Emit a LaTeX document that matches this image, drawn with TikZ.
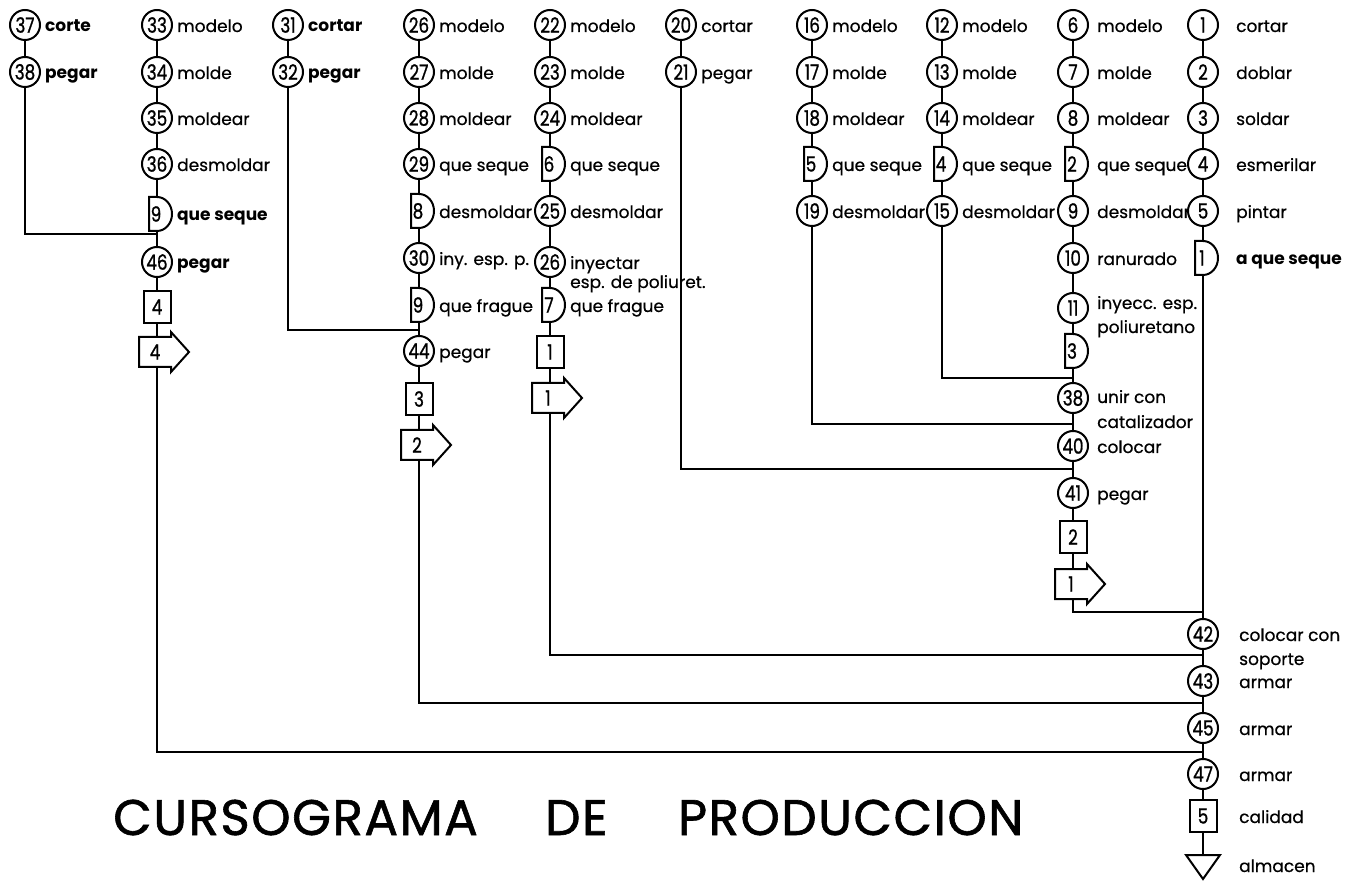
\documentclass[tikz,border=0pt]{standalone}
\usepackage{fontspec}
\setmainfont{Poppins}
\newfontfamily\numfont[FakeStretch=0.8,FakeBold=1]{Poppins}
\newfontfamily\labfont[FakeBold=0.6]{Poppins}
\newfontfamily\ttlfont[FakeBold=1.2,LetterSpace=3]{Poppins}
\tikzset{
 ln/.style={line width=1.8pt},
 sym/.style={line width=2pt, line join=miter},
 op/.style={circle, draw, line width=2pt, fill=white, minimum size=30pt, inner sep=0pt, font=\numfont\fontsize{21}{21}\selectfont},
 bx/.style={rectangle, draw, line width=2pt, fill=white, minimum width=27pt, minimum height=32pt, inner sep=0pt, font=\numfont\fontsize{21}{21}\selectfont},
 hold/.style={rectangle, minimum width=22pt, minimum height=34pt, inner sep=0pt},
 thold/.style={rectangle, minimum width=32pt, minimum height=30pt, inner sep=0pt},
 num/.style={inner sep=0pt, font=\numfont\fontsize{21}{21}\selectfont},
 lab/.style={anchor=base west, inner sep=0pt, font=\labfont\fontsize{17}{19}\selectfont},
 blab/.style={anchor=base west, inner sep=0pt, font=\bfseries\fontsize{17}{19}\selectfont},
 cur/.style={lab},
 ttl/.style={anchor=base west, inner sep=0pt, font=\ttlfont\fontsize{50}{50}\selectfont},
}
\def\lx{20}
\newcommand\op[5]{%
  \node[op] (#1) at (#2,-#3) {#4};
  \node[cur] at (#2+\lx,-#3-7) {#5};}
\newcommand\bxx[5]{%
  \node[bx] (#1) at (#2,-#3) {#4};
  \node[cur] at (#2+\lx,-#3-7) {#5};}
\newcommand\dly[5]{%
  \node[hold] (#1) at (#2,-#3) {};
  \draw[sym] (#2-8,-#3+17) -- (#2,-#3+17) arc[start angle=90,end angle=-90,x radius=15,y radius=17] -- (#2-8,-#3-17) -- cycle;
  \node[num] at (#2-1,-#3) {#4};
  \node[cur] at (#2+\lx,-#3-7) {#5};}
\newcommand\trp[4]{%
  \node[thold] (#1) at (#2,-#3) {};
  \draw[sym] (#2-18,-#3+15) -- (#2+14,-#3+15) -- (#2+14,-#3+20) -- (#2+32,-#3) -- (#2+14,-#3-20) -- (#2+14,-#3-15) -- (#2-18,-#3-15) -- cycle;
  \node[num] at (#2-2,-#3) {#4};}
\begin{document}
\begin{tikzpicture}[x=1pt,y=1pt]
\useasboundingbox (0,0) rectangle (1361,-882);
% ---------- merge coordinates
\coordinate (mB) at (1203,-752);
\coordinate (mD) at (1203,-703);
\coordinate (mE) at (1203,-655);
\coordinate (mI) at (1203,-612);
\coordinate (mF) at (1073,-469);
\coordinate (mG) at (1073,-424);
\coordinate (mH) at (1073,-378);
\coordinate (mA) at (157,-234);
\coordinate (mC) at (419,-330);
% ---------- column A
\tikzset{cur/.style={blab}}
\op{a37}{25}{25}{37}{corte}
\op{a38}{25}{72}{38}{pegar}
\draw[ln] (a37) -- (a38);
\draw[line width=2.3pt] (a38) |- (mA);
% ---------- column B
\tikzset{cur/.style={lab}}
\op{b33}{157}{25}{33}{modelo}
\op{b34}{157}{72}{34}{molde}
\op{b35}{157}{118}{35}{moldear}
\op{b36}{157}{164}{36}{desmoldar}
\tikzset{cur/.style={blab}}
\dly{b9}{157}{214}{9}{que seque}
\op{b46}{157}{262}{46}{pegar}
\bxx{b4}{157}{307}{4}{}
\trp{bp4}{157}{352}{4}
\draw[ln] (b33) -- (b34); \draw[ln] (b34) -- (b35); \draw[ln] (b35) -- (b36);
\draw[ln] (b36) -- (b9); \draw[ln] (b9) -- (b46); \draw[ln] (b46) -- (b4); \draw[ln] (b4) -- (bp4);
\draw[ln] (bp4) |- (mB);
% ---------- column C
\op{c31}{288}{25}{31}{cortar}
\op{c32}{288}{72}{32}{pegar}
\draw[ln] (c31) -- (c32);
\draw[line width=2.3pt] (c32) |- (mC);
% ---------- column D
\tikzset{cur/.style={lab}}
\op{d26}{419}{25}{26}{modelo}
\op{d27}{419}{72}{27}{molde}
\op{d28}{419}{118}{28}{moldear}
\op{d29}{419}{164}{29}{que seque}
\dly{d8}{419}{211}{8}{desmoldar}
\op{d30}{419}{258}{30}{iny. esp. p.}
\dly{d9}{419}{305}{9}{que frague}
\op{d44}{419}{351}{44}{pegar}
\bxx{d3}{419}{399}{3}{}
\trp{dp2}{419}{445}{2}
\draw[ln] (d26) -- (d27); \draw[ln] (d27) -- (d28); \draw[ln] (d28) -- (d29);
\draw[ln] (d29) -- (d8); \draw[ln] (d8) -- (d30); \draw[ln] (d30) -- (d9);
\draw[ln] (d9) -- (d44); \draw[ln] (d44) -- (d3); \draw[ln] (d3) -- (dp2);
\draw[ln] (dp2) |- (mD);
% ---------- column E
\op{e22}{550}{25}{22}{modelo}
\op{e23}{550}{72}{23}{molde}
\op{e24}{550}{118}{24}{moldear}
\dly{e6}{550}{164}{6}{que seque}
\op{e25}{550}{211}{25}{desmoldar}
\op{e26}{550}{262}{26}{inyectar}
\node[lab] at (550+\lx,-282-6) {esp. de poliuret.};
\dly{e7}{550}{305}{7}{que frague}
\bxx{e1}{550}{352}{1}{}
\trp{ep1}{550}{398}{1}
\draw[ln] (e22) -- (e23); \draw[ln] (e23) -- (e24); \draw[ln] (e24) -- (e6);
\draw[ln] (e6) -- (e25); \draw[ln] (e25) -- (e26); \draw[ln] (e26) -- (e7);
\draw[ln] (e7) -- (e1); \draw[ln] (e1) -- (ep1);
\draw[ln] (ep1) |- (mE);
% ---------- column F
\op{f20}{681}{25}{20}{cortar}
\op{f21}{681}{72}{21}{pegar}
\draw[ln] (f20) -- (f21);
\draw[ln] (f21) |- (mF);
% ---------- column G
\op{g16}{812}{25}{16}{modelo}
\op{g17}{812}{72}{17}{molde}
\op{g18}{812}{118}{18}{moldear}
\dly{g5}{812}{164}{5}{que seque}
\op{g19}{812}{211}{19}{desmoldar}
\draw[ln] (g16) -- (g17); \draw[ln] (g17) -- (g18); \draw[ln] (g18) -- (g5); \draw[ln] (g5) -- (g19);
\draw[ln] (g19) |- (mG);
% ---------- column H
\op{h12}{942}{25}{12}{modelo}
\op{h13}{942}{72}{13}{molde}
\op{h14}{942}{118}{14}{moldear}
\dly{h4}{942}{164}{4}{que seque}
\op{h15}{942}{211}{15}{desmoldar}
\draw[ln] (h12) -- (h13); \draw[ln] (h13) -- (h14); \draw[ln] (h14) -- (h4); \draw[ln] (h4) -- (h15);
\draw[ln] (h15) |- (mH);
% ---------- column I
\def\lx{24}
\op{i6}{1073}{25}{6}{modelo}
\op{i7}{1073}{72}{7}{molde}
\op{i8}{1073}{118}{8}{moldear}
\dly{i2}{1073}{164}{2}{que seque}
\op{i9}{1073}{211}{9}{desmoldar}
\op{i10}{1073}{258}{10}{ranurado}
\op{i11}{1073}{308}{11}{}
\node[lab] at (1073+\lx,-303-6) {inyecc. esp.};
\node[lab] at (1073+\lx,-327-6) {poliuretano};
\dly{i3}{1073}{351}{3}{}
\op{i38}{1073}{398}{38}{}
\node[lab] at (1073+\lx,-397-6) {unir con};
\node[lab] at (1073+\lx,-422-6) {catalizador};
\op{i40}{1073}{446}{40}{colocar}
\op{i41}{1073}{493}{41}{pegar}
\bxx{i2b}{1073}{537}{2}{}
\trp{ip1}{1073}{584}{1}
\draw[ln] (i6) -- (i7); \draw[ln] (i7) -- (i8); \draw[ln] (i8) -- (i2);
\draw[ln] (i2) -- (i9); \draw[ln] (i9) -- (i10); \draw[ln] (i10) -- (i11);
\draw[ln] (i11) -- (i3); \draw[ln] (i3) -- (i38); \draw[ln] (i38) -- (i40);
\draw[ln] (i40) -- (i41); \draw[ln] (i41) -- (i2b); \draw[ln] (i2b) -- (ip1);
\draw[ln] (ip1) |- (mI);
% ---------- column J
\def\lx{33}
\op{j1}{1203}{25}{1}{cortar}
\op{j2}{1203}{72}{2}{doblar}
\op{j3}{1203}{118}{3}{soldar}
\op{j4}{1203}{164}{4}{esmerilar}
\op{j5}{1203}{211}{5}{pintar}
\tikzset{cur/.style={blab}}
\dly{j1d}{1203}{258}{1}{a que seque}
\tikzset{cur/.style={lab}}
\def\lx{36}
\op{j42}{1203}{634}{42}{colocar con}
\node[lab] at (1203+\lx,-659-6) {soporte};
\op{j43}{1203}{681}{43}{armar}
\op{j45}{1203}{728}{45}{armar}
\op{j47}{1203}{774}{47}{armar}
\bxx{j5b}{1203}{816}{5}{calidad}
\coordinate (tri) at (1203,-855);
\draw[sym] (1186,-855) -- (1220,-855) -- (1203,-879) -- cycle;
\node[lab] at (1203+\lx,-866-6) {almacen};
\draw[ln] (j1) -- (j2); \draw[ln] (j2) -- (j3); \draw[ln] (j3) -- (j4); \draw[ln] (j4) -- (j5);
\draw[ln] (j5) -- (j1d); \draw[ln] (j1d) -- (j42); \draw[ln] (j42) -- (j43);
\draw[ln] (j43) -- (j45); \draw[ln] (j45) -- (j47); \draw[ln] (j47) -- (j5b); \draw[ln] (j5b) -- (tri);
% ---------- title
\node[ttl] (t1) at (113,-835) {CURSOGRAMA};
\node[ttl] (t2) at (545,-835) {DE};
\node[ttl] (t3) at (678,-835) {PRODUCCION};
\end{tikzpicture}
\end{document}
